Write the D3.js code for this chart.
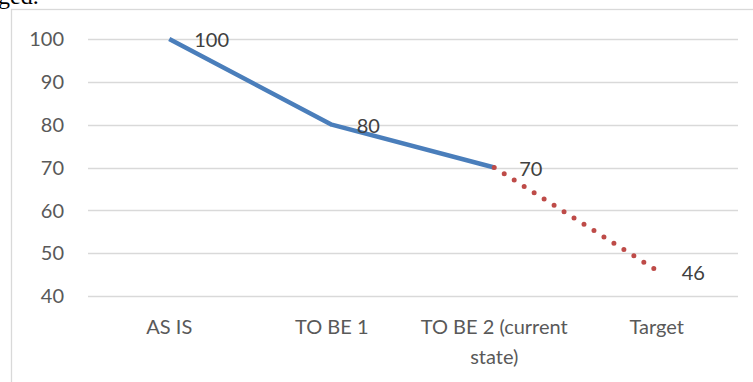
<!DOCTYPE html>
<html>
<head>
<meta charset="utf-8">
<script src="https://cdn.jsdelivr.net/npm/d3@7"></script>
<style>
  body { margin: 0; background: #fff; }
  svg { display: block; font-family: Lato, "Open Sans", sans-serif; }
</style>
</head>
<body>
<div id="chart"></div>
<script>
const categories = ["AS IS", "TO BE 1", "TO BE 2 (current state)", "Target"];
const actual = [100, 80, 70, null];
const projected = [null, null, 70, 46];
const yTicks = [40, 50, 60, 70, 80, 90, 100];

const width = 753;
const height = 382;
const margin = { top: 39, right: 15, bottom: 86, left: 88 };

const svg = d3.select("#chart").append("svg")
    .attr("width", width)
    .attr("height", height);

// bit of the document text above the chart
svg.append("text")
    .attr("x", -2)
    .attr("y", 4)
    .style("font-family", "'Liberation Serif', serif")
    .style("font-size", "24px")
    .style("fill", "#000")
    .text("ged.");

// chart area frame
svg.append("rect")
    .attr("x", 11.5)
    .attr("y", 9.5)
    .attr("width", width + 10)
    .attr("height", height + 10)
    .style("fill", "none")
    .style("stroke", "#d9d9d9")
    .style("stroke-width", 1.3);

const x = d3.scaleBand()
    .domain(categories)
    .range([margin.left, width - margin.right]);

const y = d3.scaleLinear()
    .domain([40, 100])
    .range([296, margin.top]);

// gridlines
svg.append("g")
    .selectAll("line")
    .data(yTicks)
    .enter()
    .append("line")
    .attr("x1", margin.left)
    .attr("x2", width - margin.right)
    .attr("y1", d => Math.round(y(d)) + 0.5)
    .attr("y2", d => Math.round(y(d)) + 0.5)
    .style("stroke", "#d9d9d9")
    .style("stroke-width", 1.3);

// y labels
svg.append("g")
    .selectAll("text")
    .data(yTicks)
    .enter()
    .append("text")
    .attr("x", 64)
    .attr("y", d => y(d))
    .attr("dy", "0.36em")
    .style("text-anchor", "end")
    .style("font-size", "20px")
    .style("fill", "#595959")
    .text(d => d);

// x labels, wrapped to band width
svg.append("g")
    .selectAll("text")
    .data(categories)
    .enter()
    .append("text")
    .attr("x", d => x(d) + x.bandwidth() / 2)
    .attr("y", 334)
    .style("text-anchor", "middle")
    .style("font-size", "20px")
    .style("fill", "#595959")
    .each(function (d) {
        const el = d3.select(this);
        const words = d.split(" ");
        let line = [];
        let tspan = el.append("tspan").attr("x", x(d) + x.bandwidth() / 2).attr("dy", 0);
        words.forEach(w => {
            line.push(w);
            tspan.text(line.join(" "));
            if (tspan.node().getComputedTextLength() > x.bandwidth() && line.length > 1) {
                line.pop();
                tspan.text(line.join(" "));
                line = [w];
                tspan = el.append("tspan")
                    .attr("x", x(d) + x.bandwidth() / 2)
                    .attr("dy", 30)
                    .text(w);
            }
        });
    });

const cx = d => x(d) + x.bandwidth() / 2;

const line = d3.line()
    .defined(d => d.v != null)
    .x(d => cx(d.c))
    .y(d => y(d.v));

svg.append("path")
    .datum(categories.map((c, i) => ({ c, v: actual[i] })))
    .attr("d", line)
    .style("fill", "none")
    .style("stroke", "#4a7ebb")
    .style("stroke-width", 4.5)
    .style("stroke-linejoin", "round");

svg.append("path")
    .datum(categories.map((c, i) => ({ c, v: projected[i] })))
    .attr("d", line)
    .style("fill", "none")
    .style("stroke", "#be4b48")
    .style("stroke-width", 5)
    .style("stroke-linecap", "round")
    .style("stroke-dasharray", "0 11.8");

// data labels
const labels = categories.map((c, i) => ({ c, v: actual[i] != null ? actual[i] : projected[i] }));

svg.append("g")
    .selectAll("text")
    .data(labels)
    .enter()
    .append("text")
    .attr("x", d => cx(d.c) + 25)
    .attr("y", d => y(d.v) + (d.v === 46 ? 2 : 1))
    .attr("dy", "0.36em")
    .style("font-size", "20px")
    .style("fill", "#404040")
    .text(d => d.v);
</script>
</body>
</html>
